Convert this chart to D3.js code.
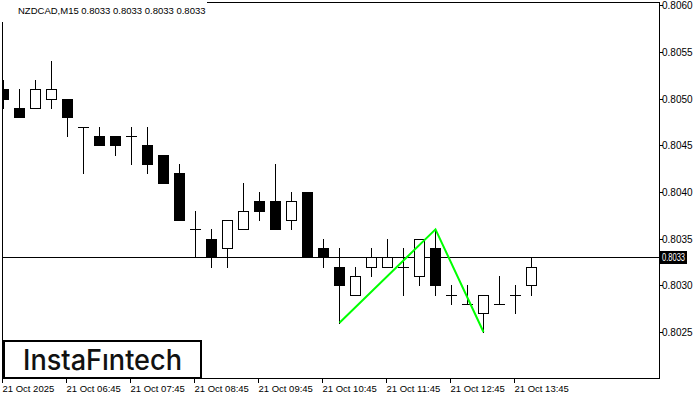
<!DOCTYPE html>
<html>
<head>
<meta charset="utf-8">
<script src="https://cdn.jsdelivr.net/npm/d3@7"></script>
<style>
  html, body { margin: 0; padding: 0; background: #fff; }
  svg { display: block; }
</style>
</head>
<body>
<svg id="chart" width="700" height="400"></svg>
<script>
// ---- data ----
const times = ["05:45","06:00","06:15","06:30","06:45","07:00","07:15","07:30","07:45","08:00","08:15","08:30","08:45","09:00","09:15","09:30","09:45","10:00","10:15","10:30","10:45","11:00","11:15","11:30","11:45","12:00","12:15","12:30","12:45","13:00","13:15","13:30","13:45","14:00","14:15"];
const opens  = [0.8051,0.8049,0.8049,0.8050,0.8050,0.8047,0.8046,0.8046,0.8046,0.8045,0.8044,0.8042,0.8036,0.8035,0.8034,0.8036,0.8039,0.8039,0.8037,0.8040,0.8034,0.8032,0.8029,0.8032,0.8032,0.8032,0.8031,0.8034,0.8029,0.8028,0.8027,0.8028,0.8029,0.8030,0.8033];
const highs  = [0.8052,0.8051,0.8052,0.8054,0.8050,0.8047,0.8047,0.8046,0.8047,0.8047,0.8044,0.8043,0.8038,0.8036,0.8037,0.8041,0.8040,0.8043,0.8040,0.8040,0.8035,0.8034,0.8032,0.8034,0.8035,0.8034,0.8035,0.8036,0.8030,0.8030,0.8029,0.8031,0.8030,0.8033,0.8033];
const lows   = [0.8049,0.8048,0.8049,0.8049,0.8046,0.8042,0.8045,0.8044,0.8043,0.8042,0.8041,0.8037,0.8033,0.8032,0.8032,0.8036,0.8037,0.8036,0.8036,0.8033,0.8032,0.8026,0.8029,0.8031,0.8032,0.8029,0.8030,0.8029,0.8028,0.8028,0.8025,0.8028,0.8027,0.8029,0.8033];
const closes = [0.8050,0.8048,0.8051,0.8051,0.8048,0.8047,0.8045,0.8045,0.8046,0.8043,0.8041,0.8037,0.8036,0.8033,0.8037,0.8038,0.8038,0.8036,0.8039,0.8033,0.8033,0.8030,0.8031,0.8033,0.8033,0.8032,0.8035,0.8030,0.8029,0.8028,0.8029,0.8028,0.8029,0.8032,0.8033];
const yTicks = [0.8025,0.8030,0.8035,0.8040,0.8045,0.8050,0.8055,0.8060];
const xTickIdx = [0,4,8,12,16,20,24,28,32];
const xTickLabels = ["21 Oct 2025","21 Oct 06:45","21 Oct 07:45","21 Oct 08:45","21 Oct 09:45","21 Oct 10:45","21 Oct 11:45","21 Oct 12:45","21 Oct 13:45"];
const lastPrice = 0.8033;
const title = "NZDCAD,M15  0.8033 0.8033 0.8033 0.8033";
const patternIdx = [21, 27, 30];
const patternVal = [0.8026, 0.8036, 0.8025];

// ---- layout ----
const plotL = 3, plotR = 659, plotT = 3, plotB = 379;
const svg = d3.select("#chart");
const x = d3.scaleLinear().domain([0, 1]).range([3.5, 19.5]); // 16px per candle
const y = d3.scaleLinear().domain([0.8020, 0.8060]).range([378.67, 5.33]);
const py = v => Math.round(y(v));

svg.append("rect").attr("width", 700).attr("height", 400).attr("fill", "#fff");

svg.append("defs").append("clipPath").attr("id", "plotclip")
  .append("rect").attr("x", plotL).attr("y", plotT).attr("width", plotR - plotL).attr("height", plotB - plotT);

// frame
svg.append("rect").attr("x", plotL - 0.5).attr("y", plotT - 0.5)
  .attr("width", plotR - plotL + 1).attr("height", plotB - plotT)
  .attr("fill", "none").attr("stroke", "#000").attr("stroke-width", 1);

const g = svg.append("g").attr("clip-path", "url(#plotclip)");

// price line
g.append("line").attr("x1", plotL).attr("x2", plotR)
  .attr("y1", py(lastPrice) + 0.5).attr("y2", py(lastPrice) + 0.5)
  .attr("stroke", "#000").attr("stroke-width", 1);

const data = opens.map((o, i) => ({ i, o, h: highs[i], l: lows[i], c: closes[i] }));

// wicks
g.selectAll("line.wick").data(data).enter().append("line")
  .attr("class", "wick")
  .attr("x1", d => x(d.i)).attr("x2", d => x(d.i))
  .attr("y1", d => py(d.h)).attr("y2", d => py(d.l) + 1)
  .attr("stroke", "#000").attr("stroke-width", 1);

// bodies
data.forEach(d => {
  const cx = x(d.i);
  const top = py(Math.max(d.o, d.c)), bot = py(Math.min(d.o, d.c));
  if (d.o === d.c) {
    g.append("line").attr("x1", cx - 5.5).attr("x2", cx + 5.5)
      .attr("y1", top + 0.5).attr("y2", top + 0.5)
      .attr("stroke", "#000").attr("stroke-width", 1);
  } else if (d.c < d.o) {
    g.append("rect").attr("x", cx - 5.5).attr("y", top)
      .attr("width", 11).attr("height", bot - top + 1).attr("fill", "#000");
  } else {
    g.append("rect").attr("x", cx - 5).attr("y", top + 0.5)
      .attr("width", 10).attr("height", bot - top)
      .attr("fill", "#fff").attr("stroke", "#000").attr("stroke-width", 1);
  }
});

// pattern line
const line = d3.line().x(d => x(d[0])).y(d => y(d[1]));
g.append("path").datum(patternIdx.map((k, j) => [k, patternVal[j]]))
  .attr("d", line).attr("fill", "none").attr("stroke", "#00ff00").attr("stroke-width", 2);

// y axis
const yAx = svg.append("g");
yTicks.forEach(t => {
  const yy = Math.max(py(t), 4);
  yAx.append("line").attr("x1", plotR).attr("x2", plotR + 4)
    .attr("y1", yy + 0.5).attr("y2", yy + 0.5).attr("stroke", "#000");
  yAx.append("text").attr("x", 662).attr("y", yy + 0.5).attr("dy", "0.35em")
    .attr("font-family", "Liberation Sans, Arial, sans-serif").attr("font-size", 10)
    .attr("fill", "#000").text(t.toFixed(4));
});
// last price label
const ly = py(lastPrice) + 0.5;
yAx.append("rect").attr("x", 660).attr("y", ly - 6.5).attr("width", 27).attr("height", 13).attr("fill", "#000");
yAx.append("text").attr("x", 662).attr("y", ly).attr("dy", "0.35em")
  .attr("font-family", "Liberation Sans, Arial, sans-serif").attr("font-size", 10)
  .attr("textLength", 23).attr("lengthAdjust", "spacingAndGlyphs")
  .attr("fill", "#fff").text(lastPrice.toFixed(4));

// x axis
const xAx = svg.append("g");
xTickIdx.forEach((k, j) => {
  const xx = Math.round(x(k) - 0.5) - 0.5;
  xAx.append("line").attr("x1", xx).attr("x2", xx).attr("y1", plotB).attr("y2", plotB + 4).attr("stroke", "#000");
  xAx.append("text").attr("x", xx).attr("y", 392)
    .attr("font-family", "Liberation Sans, Arial, sans-serif").attr("font-size", 9.5)
    .attr("fill", "#000").text(xTickLabels[j]);
});

// title
svg.append("rect").attr("x", 0).attr("y", 0).attr("width", 207).attr("height", 22).attr("fill", "#fff");
svg.append("text").attr("x", 18).attr("y", 14)
  .attr("font-family", "Liberation Sans, Arial, sans-serif").attr("font-size", 9.5)
  .attr("fill", "#000").text(title);

// logo
svg.append("rect").attr("x", 4).attr("y", 341).attr("width", 197).attr("height", 37)
  .attr("fill", "#fff").attr("stroke", "#000").attr("stroke-width", 2);
svg.append("text").attr("x", 23).attr("y", 370)
  .attr("font-family", "Inter, Lato, sans-serif").attr("font-size", 28).attr("font-weight", 500)
  .attr("textLength", 159).attr("lengthAdjust", "spacingAndGlyphs")
  .attr("fill", "#111").text("InstaF\u0131ntech");
</script>
</body>
</html>
